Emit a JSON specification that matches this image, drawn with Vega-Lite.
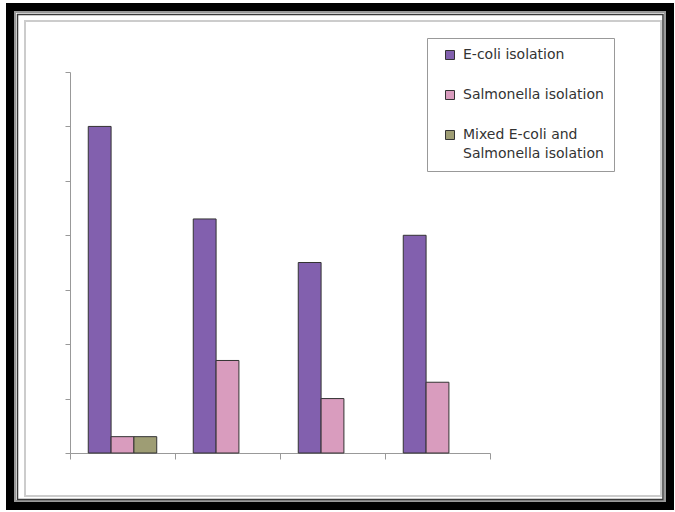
{
  "$schema": "https://vega.github.io/schema/vega-lite/v6.json",
  "width": 660,
  "height": 499,
  "autosize": {"type": "none"},
  "padding": {"left": 10, "top": 7, "right": 5, "bottom": 6},
  "background": "white",
  "config": {
    "view": {"stroke": "black", "strokeWidth": 8, "fill": "white"},
    "font": "DejaVu Sans",
    "style": {"guide-label": {"lineHeight": 19}}
  },
  "layer": [
    {
      "data": {"values": [{}]},
      "mark": {"type": "rect", "fill": null, "stroke": "#9a9a9a", "strokeWidth": 2, "xOffset": 5, "x2Offset": -5, "yOffset": 5, "y2Offset": -5},
      "encoding": {"x": {"value": 0}, "x2": {"value": "width"}, "y": {"value": 0}, "y2": {"value": "height"}}
    },
    {
      "data": {"values": [{}]},
      "mark": {"type": "rect", "fill": null, "stroke": "#3a3a3a", "strokeWidth": 1.5, "xOffset": 7.5, "x2Offset": -7, "yOffset": 7.5, "y2Offset": -6.5},
      "encoding": {"x": {"value": 0}, "x2": {"value": "width"}, "y": {"value": 0}, "y2": {"value": "height"}}
    },
    {
      "data": {"values": [{}]},
      "mark": {"type": "rect", "fill": null, "stroke": "#cccccc", "strokeWidth": 2, "xOffset": 15, "x2Offset": -9, "yOffset": 14, "y2Offset": -10},
      "encoding": {"x": {"value": 0}, "x2": {"value": "width"}, "y": {"value": 0}, "y2": {"value": "height"}}
    },
    {
      "data": {
        "values": [
          {"site": "Site 1", "series": "E-coli isolation", "value": 60},
          {"site": "Site 1", "series": "Salmonella isolation", "value": 3},
          {"site": "Site 1", "series": "Mixed E-coli and Salmonella isolation", "value": 3},
          {"site": "Site 2", "series": "E-coli isolation", "value": 43},
          {"site": "Site 2", "series": "Salmonella isolation", "value": 17},
          {"site": "Site 3", "series": "E-coli isolation", "value": 35},
          {"site": "Site 3", "series": "Salmonella isolation", "value": 10},
          {"site": "Site 4", "series": "E-coli isolation", "value": 40},
          {"site": "Site 4", "series": "Salmonella isolation", "value": 13}
        ]
      },
      "mark": {"type": "bar", "stroke": "#333333", "strokeWidth": 1},
      "encoding": {
        "x": {
          "field": "site",
          "type": "nominal",
          "scale": {"range": [60, 480], "paddingInner": 0, "paddingOuter": 0},
          "axis": {
            "title": null,
            "labels": false,
            "orient": "bottom",
            "offset": -53,
            "tickBand": "extent",
            "tickSize": 6,
            "tickColor": "#999999",
            "domainColor": "#999999",
            "grid": false
          }
        },
        "xOffset": {
          "field": "series",
          "type": "nominal",
          "scale": {
            "domain": ["E-coli isolation", "Salmonella isolation", "Mixed E-coli and Salmonella isolation"],
            "paddingOuter": 0.8,
            "paddingInner": 0
          }
        },
        "y": {
          "field": "value",
          "type": "quantitative",
          "scale": {"domain": [0, 70], "range": [446, 65], "nice": false},
          "axis": {
            "title": null,
            "labels": false,
            "orient": "left",
            "offset": -60,
            "values": [0, 10, 20, 30, 40, 50, 60, 70],
            "tickSize": 5,
            "tickColor": "#999999",
            "domainColor": "#999999",
            "grid": false
          }
        },
        "color": {
          "field": "series",
          "type": "nominal",
          "scale": {
            "domain": ["E-coli isolation", "Salmonella isolation", "Mixed E-coli and Salmonella isolation"],
            "range": ["#8260ae", "#d99cbe", "#9e9d74"]
          },
          "legend": {
            "title": null,
            "orient": "none",
            "legendX": 417,
            "legendY": 31,
            "padding": 10,
            "strokeColor": "#999999",
            "fillColor": "white",
            "symbolType": "square",
            "symbolSize": 81,
            "symbolStrokeColor": "#333333",
            "symbolStrokeWidth": 1,
            "symbolOpacity": 1,
            "symbolOffset": 6,
            "labelOffset": 6,
            "labelFontSize": 14,
            "labelFont": "DejaVu Sans",
            "labelColor": "#333333",
            "labelLimit": 300,
            "rowPadding": 26,
            "labelExpr": "datum.label == 'Mixed E-coli and Salmonella isolation' ? ['Mixed E-coli and', 'Salmonella isolation'] : datum.label"
          }
        }
      }
    }
  ]
}
